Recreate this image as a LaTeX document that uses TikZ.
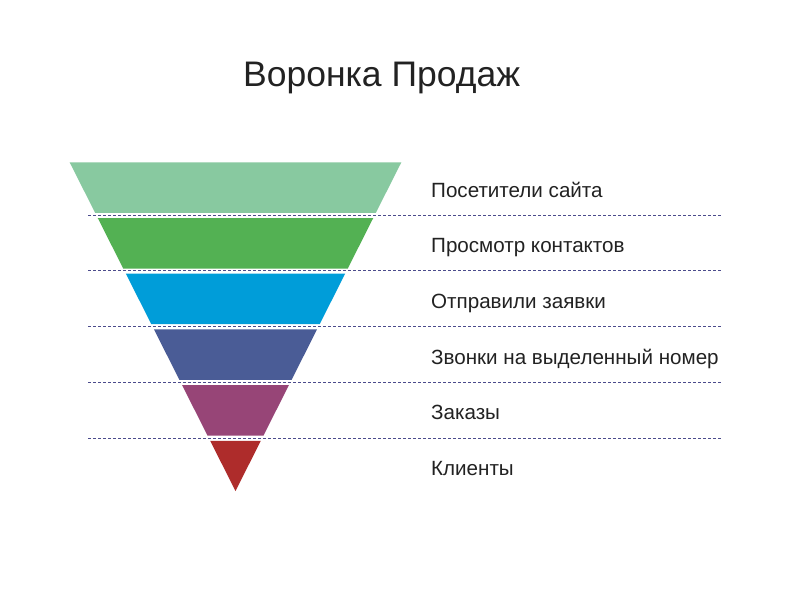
\documentclass[tikz,border=0pt]{standalone}
\usepackage{fontspec}
\setmainfont{Liberation Sans}
\definecolor{c1}{HTML}{88C9A0}
\definecolor{c2}{HTML}{53B153}
\definecolor{c3}{HTML}{009DD9}
\definecolor{c4}{HTML}{4A5C96}
\definecolor{c5}{HTML}{974577}
\definecolor{c6}{HTML}{AE2C2B}
\definecolor{dashc}{HTML}{4B4B8C}
\definecolor{txt}{HTML}{222222}
\begin{document}
\begin{tikzpicture}[x=1pt,y=-1pt,
  sep/.style={draw=dashc,line width=0.9pt,dash pattern=on 3pt off 2pt},
  lab/.style={anchor=base west,inner sep=0pt,text=txt,font=\fontsize{20.6}{24}\selectfont},
  ttl/.style={anchor=base west,inner sep=0pt,text=txt,font=\fontsize{35.5}{40}\selectfont}]
\useasboundingbox (0,0) rectangle (785,594);
\fill[white] (0,0) rectangle (785,594);
\def\k{0.5046}
\def\cx{235.5}
\def\ap{491}
\foreach \i/\c in {0/c1,1/c2,2/c3,3/c4,4/c5,5/c6}{
  \pgfmathsetmacro\t{162.3+\i*55.7}
  \pgfmathsetmacro\b{min(\t+50.5,\ap)}
  \pgfmathsetmacro\wt{\k*(\ap-\t)}
  \pgfmathsetmacro\wb{\k*(\ap-\b)}
  \fill[\c] (\cx-\wt,\t) -- (\cx+\wt,\t) -- (\cx+\wb,\b) -- (\cx-\wb,\b) -- cycle;
}
\foreach \i in {0,...,4}{
  \pgfmathsetmacro\y{215.2+\i*55.7}
  \coordinate (l\i) at (88,\y);
  \coordinate (r\i) at (722,\y);
  \draw[sep] (l\i) -- (r\i);
}
\node[ttl] (title) at (243,87) {Воронка Продаж};
\node[lab] (t0) at (431,197) {Посетители сайта};
\node[lab] (t1) at (431,252.7) {Просмотр контактов};
\node[lab] (t2) at (431,308.4) {Отправили заявки};
\node[lab] (t3) at (431,364.1) {Звонки на выделенный номер};
\node[lab] (t4) at (431,419.8) {Заказы};
\node[lab] (t5) at (431,475.5) {Клиенты};
\end{tikzpicture}
\end{document}
